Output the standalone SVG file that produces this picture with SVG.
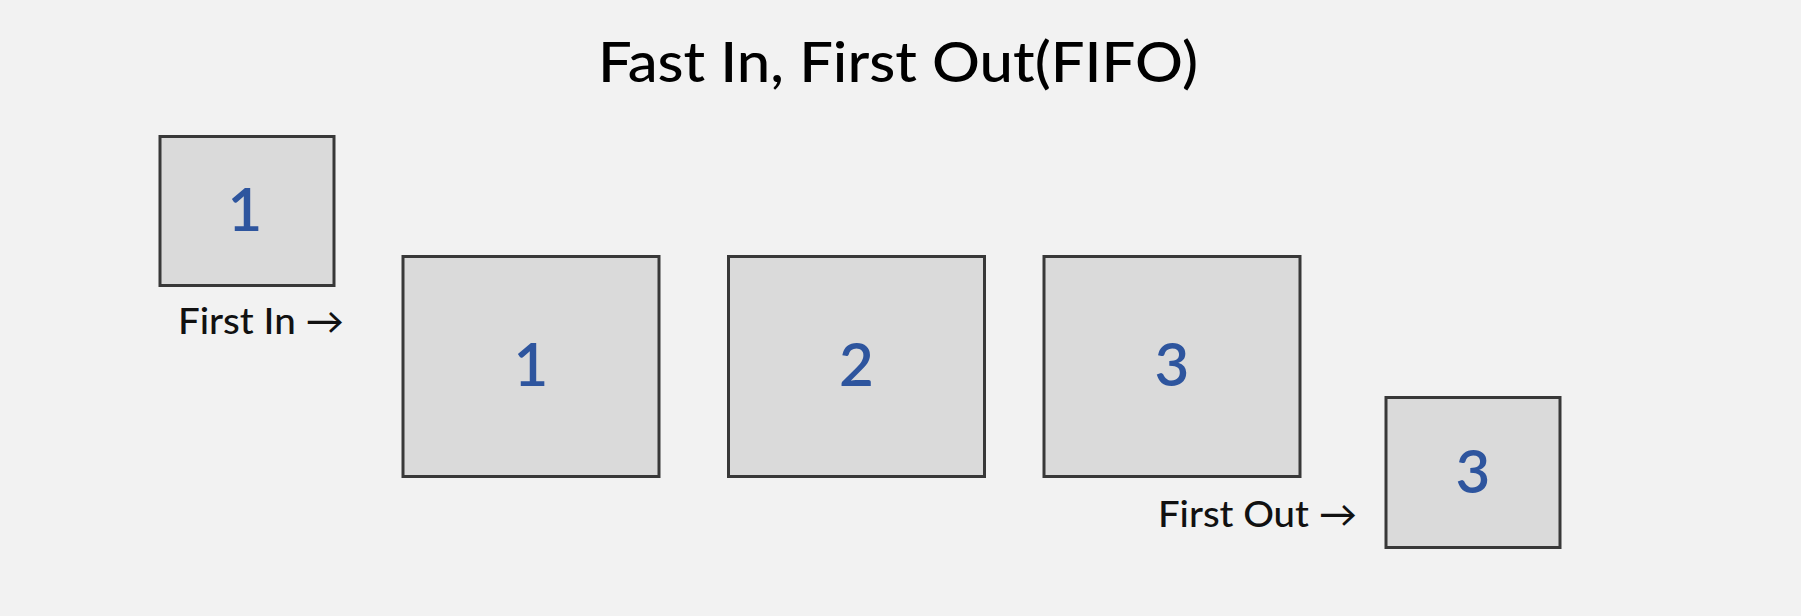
<svg xmlns="http://www.w3.org/2000/svg" width="1801" height="616" viewBox="0 0 1801 616">
<style>
.box{fill:#dadada;stroke:#383838;stroke-width:3}
.num{font-family:Lato,"Liberation Sans",sans-serif;font-size:60px;font-weight:600;fill:#2e559e;text-anchor:middle}
.lbl{font-family:Lato,"Liberation Sans",sans-serif;font-size:36px;font-weight:500;fill:#111}
.title{font-family:Lato,"Liberation Sans",sans-serif;font-size:56px;font-weight:500;fill:#000}
</style>
<rect x="0" y="0" width="1801" height="616" fill="#f2f2f2"/>
<text class="title" x="598" y="82" textLength="600" lengthAdjust="spacingAndGlyphs">Fast In, First Out(FIFO)</text>
<g id="node-in">
<rect class="box" x="160" y="136.5" width="174" height="149"/>
<text class="num" x="245" y="231">1</text>
</g>
<g id="label-first-in"><text class="lbl" x="178" y="334" textLength="166" lengthAdjust="spacingAndGlyphs">First In →</text></g>
<g id="node-1">
<rect class="box" x="403" y="256.5" width="256" height="220"/>
<text class="num" x="531" y="386">1</text>
</g>
<g id="node-2">
<rect class="box" x="728.5" y="256.5" width="256" height="220"/>
<text class="num" x="856.5" y="386">2</text>
</g>
<g id="node-3">
<rect class="box" x="1044" y="256.5" width="256" height="220"/>
<text class="num" x="1172" y="386">3</text>
</g>
<g id="node-out">
<rect class="box" x="1386" y="397.5" width="174" height="150"/>
<text class="num" x="1473" y="493">3</text>
</g>
<g id="label-first-out"><text class="lbl" x="1158" y="527" textLength="199" lengthAdjust="spacingAndGlyphs">First Out →</text></g>
<g id="connectors"></g>
</svg>
